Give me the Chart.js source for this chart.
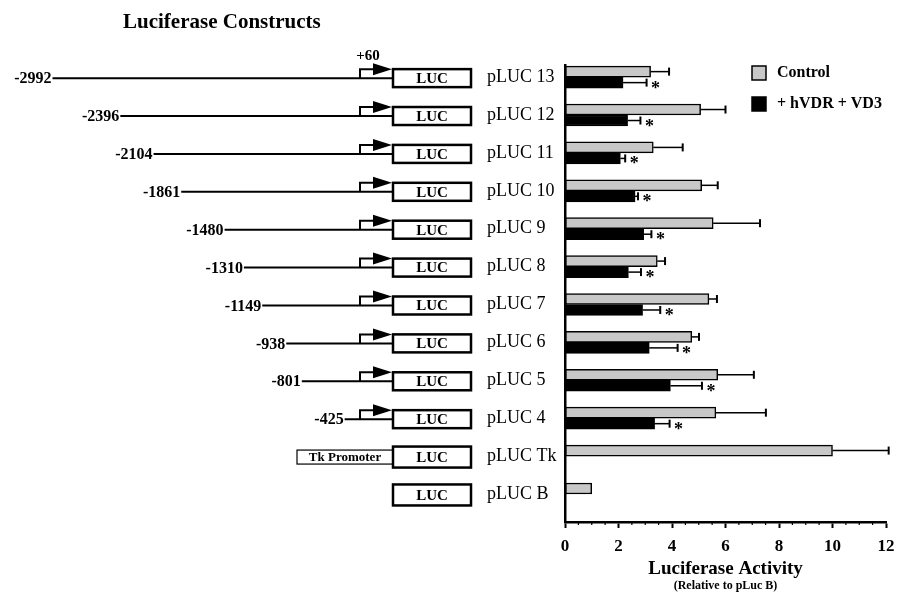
<!DOCTYPE html>
<html>
<head>
<meta charset="utf-8">
<script src="https://cdn.jsdelivr.net/npm/chart.js@4.4.1/dist/chart.umd.min.js"></script>
<style>
  body { margin: 0; background: #fff; }
</style>
</head>
<body>
<canvas id="lucChart" width="899" height="592"></canvas>
<script>
// constructs, top to bottom
var constructs = ['pLUC 13', 'pLUC 12', 'pLUC 11', 'pLUC 10', 'pLUC 9', 'pLUC 8',
                  'pLUC 7', 'pLUC 6', 'pLUC 5', 'pLUC 4', 'pLUC Tk', 'pLUC B'];
// 5' end of each promoter fragment (bp)
var starts = [-2992, -2396, -2104, -1861, -1480, -1310, -1149, -938, -801, -425, null, null];

var control    = [3.2, 5.07, 3.3, 5.11, 5.54, 3.45, 5.38, 4.74, 5.71, 5.64, 10.0, 1.0];
var controlErr = [0.69, 0.93, 1.1, 0.6, 1.75, 0.29, 0.3, 0.27, 1.35, 1.87, 2.1, null];
var vdr        = [2.17, 2.34, 2.07, 2.62, 2.94, 2.37, 2.9, 3.15, 3.94, 3.35, null, null];
var vdrErr     = [0.88, 0.48, 0.18, 0.11, 0.29, 0.47, 0.66, 1.06, 1.18, 0.56, null, null];
var significant = [true, true, true, true, true, true, true, true, true, true, false, false];

var xTicks = [0, 2, 4, 6, 8, 10, 12];

var SERIF = '"Liberation Serif", "Times New Roman", serif';

function points(values) {
    var out = [];
    values.forEach(function (v, i) {
        if (v !== null) out.push({ x: v, y: i });
    });
    return out;
}

var errors = [controlErr, vdrErr];

var extrasPlugin = {
    id: 'extras',
    afterDatasetsDraw: function (chart) {
        var ctx = chart.ctx;
        var xs = chart.scales.x;
        ctx.save();
        chart.data.datasets.forEach(function (ds, d) {
            var meta = chart.getDatasetMeta(d);
            meta.data.forEach(function (bar, j) {
                var row = ds.data[j].y;
                var err = errors[d][row];
                if (err === null) return;
                var end = xs.getPixelForValue(ds.data[j].x + err);
                ctx.strokeStyle = '#000';
                ctx.lineWidth = 1.5;
                ctx.beginPath();
                ctx.moveTo(bar.x, bar.y);
                ctx.lineTo(end, bar.y);
                ctx.stroke();
                ctx.lineWidth = 2;
                ctx.beginPath();
                ctx.moveTo(end, bar.y - 4);
                ctx.lineTo(end, bar.y + 4);
                ctx.stroke();
                if (d === 1 && significant[row]) {
                    ctx.fillStyle = '#000';
                    ctx.font = 'bold 18px ' + SERIF;
                    ctx.textAlign = 'center';
                    ctx.textBaseline = 'alphabetic';
                    ctx.fillText('*', end + 9, bar.y + 11);
                }
            });
        });
        ctx.restore();
    },
    afterDraw: function (chart) {
        var ctx = chart.ctx;
        var xs = chart.scales.x;
        var ys = chart.scales.y;
        var area = chart.chartArea;
        ctx.save();
        ctx.fillStyle = '#000';
        ctx.strokeStyle = '#000';

        // heading
        ctx.font = 'bold 21px ' + SERIF;
        ctx.textAlign = 'left';
        ctx.textBaseline = 'alphabetic';
        ctx.fillText('Luciferase Constructs', 123, 28);

        // sub title of x axis
        ctx.font = 'bold 12px ' + SERIF;
        ctx.textAlign = 'center';
        ctx.textBaseline = 'middle';
        ctx.fillText('(Relative to pLuc B)', (area.left + area.right) / 2, 586);

        // minor ticks
        ctx.lineWidth = 1.2;
        for (var v = 0.5; v < 12; v += 0.5) {
            if (v % 2 === 0) continue;
            var px = xs.getPixelForValue(v);
            ctx.beginPath();
            ctx.moveTo(px, area.bottom);
            ctx.lineTo(px, area.bottom + 3);
            ctx.stroke();
        }

        // legend
        var items = [['Control', '#c8c8c8', 73], ['+ hVDR + VD3', '#000', 104]];
        items.forEach(function (it) {
            ctx.fillStyle = it[1];
            ctx.fillRect(752, it[2] - 7, 14, 14);
            ctx.lineWidth = 1.5;
            ctx.strokeRect(752, it[2] - 7, 14, 14);
            ctx.fillStyle = '#000';
            ctx.font = 'bold 16px ' + SERIF;
            ctx.textAlign = 'left';
            ctx.textBaseline = 'middle';
            ctx.fillText(it[0], 777, it[2]);
        });

        // construct diagrams
        var boxL = 393, boxR = 471;
        constructs.forEach(function (name, i) {
            var yc = ys.getPixelForValue(i) + 1;
            var s = starts[i];
            var boxH = 18;
            if (s !== null) {
                var sx = boxL + s * 0.1138;
                ctx.lineWidth = 2;
                ctx.beginPath();
                ctx.moveTo(sx, yc);
                ctx.lineTo(boxL, yc);
                ctx.stroke();
                ctx.font = 'bold 16px ' + SERIF;
                ctx.textAlign = 'right';
                ctx.textBaseline = 'middle';
                ctx.fillText(String(s), sx - 1, yc + 1);
                // promoter arrow
                ctx.beginPath();
                ctx.moveTo(360, yc);
                ctx.lineTo(360, yc - 9);
                ctx.lineTo(374, yc - 9);
                ctx.stroke();
                ctx.beginPath();
                ctx.moveTo(373, yc - 15);
                ctx.lineTo(392, yc - 9);
                ctx.lineTo(373, yc - 3);
                ctx.closePath();
                ctx.fill();
                if (i === 0) {
                    ctx.font = 'bold 15px ' + SERIF;
                    ctx.textAlign = 'center';
                    ctx.fillText('+60', 368, yc - 22);
                }
            } else {
                boxH = 21;
            }
            if (name === 'pLUC Tk') {
                ctx.lineWidth = 1.2;
                ctx.fillStyle = '#fff';
                ctx.fillRect(297, yc - 7, boxL - 297, 14);
                ctx.strokeRect(297, yc - 7, boxL - 297, 14);
                ctx.fillStyle = '#000';
                ctx.font = 'bold 13px ' + SERIF;
                ctx.textAlign = 'center';
                ctx.textBaseline = 'middle';
                ctx.fillText('Tk Promoter', (297 + boxL) / 2, yc + 1);
            }
            ctx.lineWidth = 2.5;
            ctx.fillStyle = '#fff';
            ctx.fillRect(boxL, yc - boxH / 2, boxR - boxL, boxH);
            ctx.strokeRect(boxL, yc - boxH / 2, boxR - boxL, boxH);
            ctx.fillStyle = '#000';
            ctx.font = 'bold 15px ' + SERIF;
            ctx.textAlign = 'center';
            ctx.textBaseline = 'middle';
            ctx.fillText('LUC', (boxL + boxR) / 2, yc + 1);
        });
        ctx.restore();
    }
};

var ctx = document.getElementById('lucChart').getContext('2d');
var lucChart = new Chart(ctx, {
    type: 'bar',
    data: {
        datasets: [{
            label: 'Control',
            data: points(control),
            backgroundColor: '#c8c8c8',
            borderColor: '#000',
            borderWidth: 1.5,
            borderSkipped: false
        }, {
            label: '+ hVDR + VD3',
            data: points(vdr),
            backgroundColor: '#000',
            borderColor: '#000',
            borderWidth: 1.5,
            borderSkipped: false
        }]
    },
    options: {
        indexAxis: 'y',
        responsive: false,
        animation: false,
        devicePixelRatio: 1,
        barThickness: 11,
        layout: { padding: { left: 487, top: 65, right: 13, bottom: 0 } },
        plugins: {
            legend: { display: false },
            tooltip: { enabled: false }
        },
        scales: {
            x: {
                type: 'linear',
                min: 0,
                max: 12,
                afterBuildTicks: function (scale) {
                    scale.ticks = xTicks.map(function (v) { return { value: v }; });
                },
                ticks: {
                    color: '#000',
                    padding: 8,
                    font: { family: SERIF, size: 17, weight: 'bold' }
                },
                grid: {
                    drawOnChartArea: false,
                    drawTicks: true,
                    tickLength: 6,
                    tickWidth: 2,
                    tickColor: '#000'
                },
                border: { display: true, color: '#000', width: 2.5 },
                title: {
                    display: true,
                    text: 'Luciferase Activity',
                    color: '#000',
                    padding: { top: 0, bottom: 12 },
                    font: { family: SERIF, size: 19, weight: 'bold' }
                },
                afterFit: function (scale) {
                    scale.height = 70;
                    scale.paddingLeft = 0;
                    scale.paddingRight = 0;
                }
            },
            y: {
                type: 'linear',
                reverse: true,
                offset: false,
                min: -0.32,
                max: 11.74,
                afterBuildTicks: function (scale) {
                    scale.ticks = constructs.map(function (c, i) { return { value: i }; });
                },
                ticks: {
                    autoSkip: false,
                    crossAlign: 'far',
                    color: '#000',
                    font: { family: SERIF, size: 18 },
                    callback: function (v) { return constructs[v]; }
                },
                grid: { display: false },
                border: { display: true, color: '#000', width: 2.5 },
                afterFit: function (scale) { scale.width = 78; }
            }
        }
    },
    plugins: [extrasPlugin]
});
</script>
</body>
</html>
